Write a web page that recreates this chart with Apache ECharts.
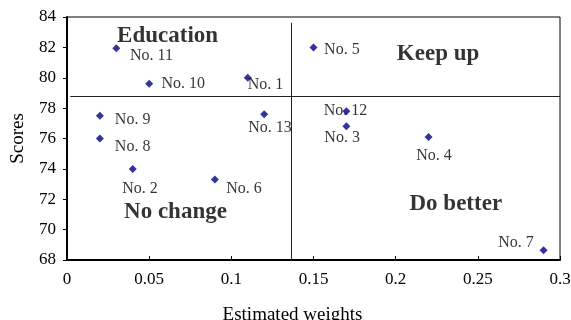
<!DOCTYPE html>
<html>
<head>
<meta charset="utf-8">
<script src="https://cdn.jsdelivr.net/npm/echarts@6/dist/echarts.min.js"></script>
<style>html,body{margin:0;padding:0;background:#fff}#c{width:571px;height:320px}</style>
</head>
<body>
<div id="c"></div>
<script>
// Data
var names   = ['No. 1','No. 2','No. 3','No. 4','No. 5','No. 6','No. 7','No. 8','No. 9','No. 10','No. 11','No. 12','No. 13'];
var weights = [0.11, 0.04, 0.17, 0.22, 0.15, 0.09, 0.29, 0.02, 0.02, 0.05, 0.03, 0.17, 0.12];
var scores  = [80.0, 74.0, 76.8, 76.1, 82.0, 73.3, 68.65, 76.0, 77.5, 79.6, 81.95, 77.8, 77.6];
var xThreshold = 0.1365;
var yThreshold = 78.8;
var quadrantNames = ['Education', 'Keep up', 'No change', 'Do better'];
var quadrantX = [0.0612, 0.2258, 0.066, 0.2366];
var quadrantY = [82.75, 81.56, 71.16, 71.67];

// label offsets (style only)
var labelOffsets = {
  'No. 1':[0,7], 'No. 2':[-10.6,19.7], 'No. 3':[-22,11], 'No. 4':[-12.3,18.5], 'No. 5':[10.6,2],
  'No. 6':[11.3,9.3], 'No. 7':[-45.3,-7], 'No. 8':[15,8], 'No. 9':[15,4], 'No. 10':[12.4,0],
  'No. 11':[13.7,8], 'No. 12':[-22.7,0], 'No. 13':[-16,14]
};

var font = 'Liberation Serif, Times New Roman, serif';
var pts = names.map(function(n, i){
  return {
    name: n,
    value: [weights[i], scores[i]],
    label: { show: true, position: 'inside', align: 'left', verticalAlign: 'middle',
             offset: labelOffsets[n], formatter: n, color: '#000', fontFamily: font, fontSize: 16 }
  };
});
var quads = quadrantNames.map(function(n, i){
  return {
    name: n, value: [quadrantX[i], quadrantY[i]],
    label: { show: true, position: 'inside', align: 'center', verticalAlign: 'middle',
             formatter: n, color: '#000', fontFamily: font, fontSize: 23, fontWeight: 'bold' }
  };
});

var chart = echarts.init(document.getElementById('c'), null, {renderer: 'canvas'});
chart.setOption({
  animation: false,
  grid: { left: 67, top: 17, right: 11, bottom: 60, show: true, borderColor: '#000', borderWidth: 1,
          containLabel: false, outerBoundsMode: 'none' },
  xAxis: {
    type: 'value', min: 0, max: 0.3, interval: 0.05,
    name: 'Estimated weights', nameLocation: 'middle', nameGap: 46,
    nameTextStyle: { fontFamily: font, fontSize: 19, color: '#000', padding: [0, 42, 0, 0] },
    axisLine: { show: true, onZero: false, lineStyle: { color: '#000', width: 2 } },
    axisTick: { show: true, inside: true, length: 4, lineStyle: { color: '#000' } },
    axisLabel: { color: '#000', fontFamily: font, fontSize: 17, margin: 11 },
    splitLine: { show: false }
  },
  yAxis: {
    type: 'value', min: 68, max: 84, interval: 2,
    name: 'Scores', nameLocation: 'middle', nameGap: 39,
    nameTextStyle: { fontFamily: font, fontSize: 19, color: '#000' },
    axisLine: { show: true, onZero: false, lineStyle: { color: '#000', width: 2 } },
    axisTick: { show: true, inside: false, length: 4, lineStyle: { color: '#000' } },
    axisLabel: { color: '#000', fontFamily: font, fontSize: 17, margin: 11 },
    splitLine: { show: false }
  },
  series: [
    {
      type: 'scatter', symbol: 'diamond', symbolSize: 8,
      itemStyle: { color: '#000080' },
      data: pts,
      markLine: {
        silent: true, symbol: ['none', 'none'],
        lineStyle: { color: '#222', width: 1, type: 'solid' },
        label: { show: false },
        data: [
          [{ coord: [xThreshold, 83.62] }, { coord: [xThreshold, 68] }],
          [{ coord: [0.002, yThreshold] }, { coord: [0.3, yThreshold] }]
        ]
      }
    },
    {
      type: 'scatter', symbolSize: 0, silent: true,
      itemStyle: { color: 'rgba(0,0,0,0)' },
      data: quads
    }
  ]
});
</script>
</body>
</html>
